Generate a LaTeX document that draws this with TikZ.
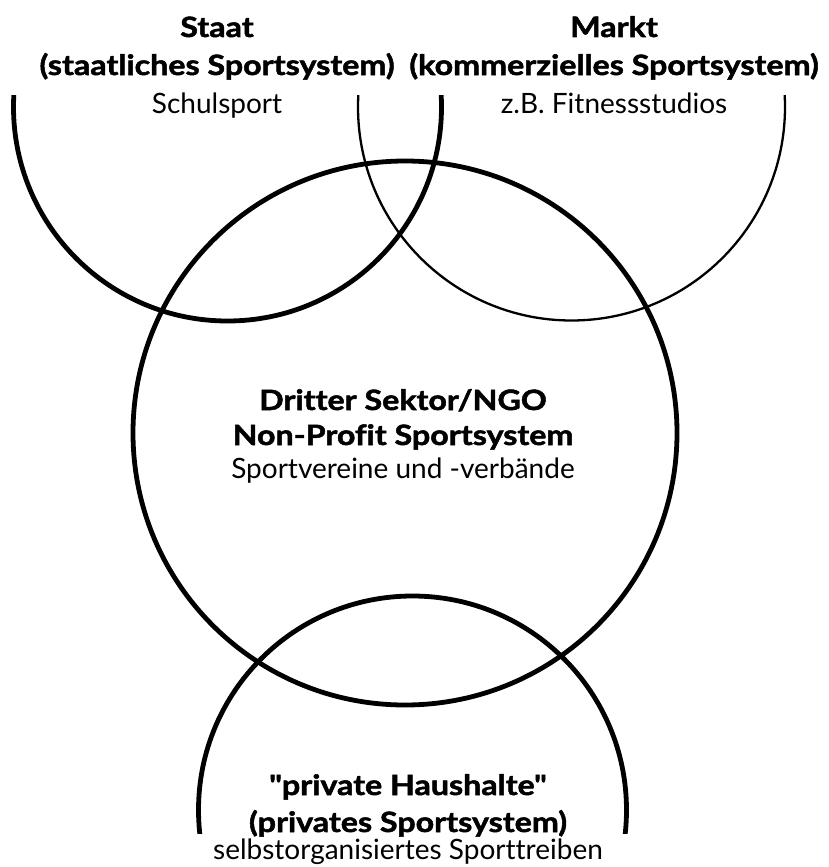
\documentclass[tikz,border=0pt]{standalone}
\usepackage{fontspec}
\setmainfont{Lato}[Ligatures={TeXOff,NoCommon},BoldFeatures={FakeStretch=1.15,FakeBold=1.8}]
\begin{document}
\begin{tikzpicture}[x=1pt,y=-1pt,
  ring/.style={draw=black,line width=4.8pt},
  thinring/.style={draw=black,line width=2.3pt},
  hd/.style={font=\bfseries\fontsize{28}{30}\selectfont,anchor=base,inner sep=0pt},
  sub/.style={font=\fontsize{28}{30}\selectfont,anchor=base,inner sep=0pt}]
\useasboundingbox (0,0) rectangle (828,867);
\begin{scope}
  \clip (0,95) rectangle (828,833);
  \draw[ring] (227.5,107) circle[radius=214pt];
  \draw[thinring] (571.5,107) circle[radius=213.5pt];
  \draw[ring] (405,433) circle[radius=272pt];
  \draw[ring] (412.5,810) circle[radius=214pt];
\end{scope}
\node[hd] (staatA) at (217,37) {Staat};
\node[hd] (staatB) at (217,75) {(staatliches Sportsystem)};
\node[sub] (staatC) at (217,113) {Schulsport};
\node[hd] (marktA) at (614,37) {Markt};
\node[hd] (marktB) at (614,75) {(kommerzielles Sportsystem)};
\node[sub] (marktC) at (614,113) {z.B. Fitnessstudios};
\node[hd] (ngoA) at (403,410) {Dritter Sektor/NGO};
\node[hd] (ngoB) at (403,445) {Non-Profit Sportsystem};
\node[sub] (ngoC) at (403,478) {Sportvereine und -verbände};
\node[hd] (privA) at (408,795) {"private Haushalte"};
\node[hd] (privB) at (408,832) {(privates Sportsystem)};
\node[sub] (privC) at (408,859) {selbstorganisiertes Sporttreiben};
\end{tikzpicture}
\end{document}
